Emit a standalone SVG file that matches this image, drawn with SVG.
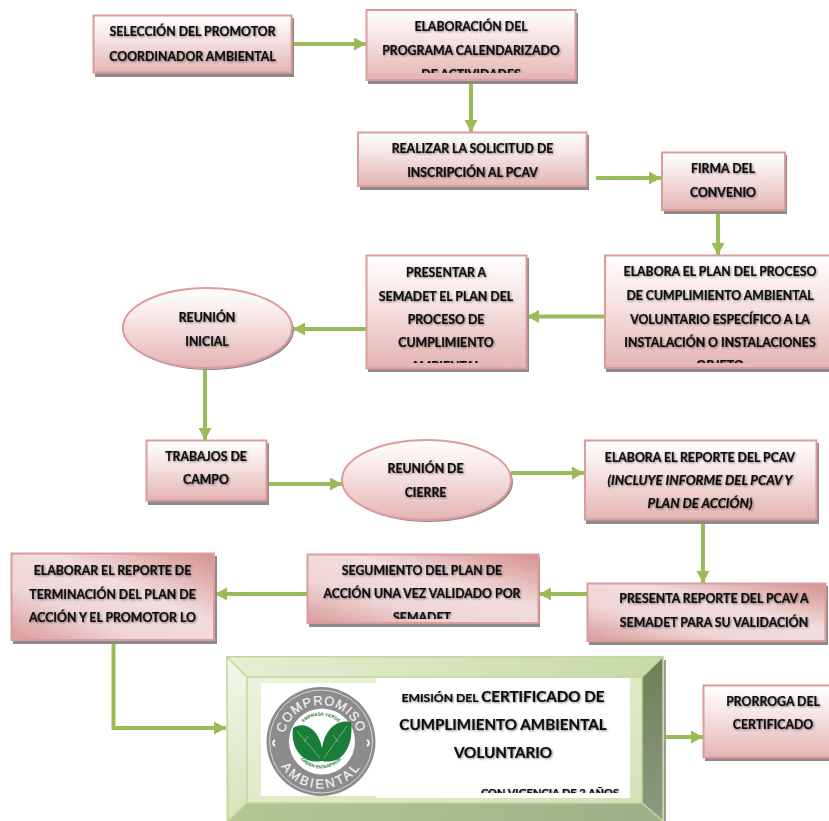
<svg xmlns="http://www.w3.org/2000/svg" width="829" height="821" viewBox="0 0 829 821">
<style>
text{font-family:Lato,"Liberation Sans",sans-serif;font-weight:700;font-size:12.3px;fill:#111;stroke:#111;stroke-width:.22;text-anchor:middle}
.t{filter:url(#ts)}
.n{fill:url(#g);stroke:#dd9c9c;stroke-width:2}
.nd{fill:url(#gd);stroke:#dd9c9c;stroke-width:2}
.s{fill:#8e8a8a}
.c{fill:none;stroke:#9bbb59;stroke-width:4}
.a{fill:#9bbb59}
.big{font-size:15.2px}
.sm{font-size:12.2px}
.it{font-size:13.2px;font-style:italic}
.lg{fill:#f2f2f2;stroke:#f2f2f2;stroke-width:.2;font-family:"Liberation Sans",sans-serif;font-weight:400;font-size:13px}
.lf{fill:#1b7d3a;stroke:none;font-family:"Liberation Sans",sans-serif;font-size:4.5px}
</style>
<defs>
<linearGradient id="g" x1="0" y1="0" x2="0" y2="1"><stop offset="0" stop-color="#fff"/><stop offset=".35" stop-color="#f8e8e8"/><stop offset="1" stop-color="#e4b4b4"/></linearGradient>
<linearGradient id="gd" x1="0" y1="1" x2="1" y2="0"><stop offset="0" stop-color="#d99a9a"/><stop offset=".32" stop-color="#efd6d6"/><stop offset=".6" stop-color="#f2dcdc"/><stop offset="1" stop-color="#d58f8f"/></linearGradient>
<linearGradient id="ft" x1="0" y1="0" x2="1" y2="0"><stop offset="0" stop-color="#e6efd3"/><stop offset="1" stop-color="#c8d8a6"/></linearGradient>
<linearGradient id="fl" x1="0" y1="0" x2="0" y2="1"><stop offset="0" stop-color="#f3f7ea"/><stop offset="1" stop-color="#d6e3ba"/></linearGradient>
<linearGradient id="fb" x1="0" y1="0" x2="1" y2="0"><stop offset="0" stop-color="#b6c795"/><stop offset="1" stop-color="#a0ae88"/></linearGradient>
<linearGradient id="fr" x1="0" y1="0" x2="0" y2="1"><stop offset="0" stop-color="#6f7e58"/><stop offset="1" stop-color="#8f9a80"/></linearGradient>
<linearGradient id="fi" x1="0" y1="0" x2="1" y2="1"><stop offset="0" stop-color="#eef4df"/><stop offset="1" stop-color="#d2e0b4"/></linearGradient>
<filter id="ts" x="-10%" y="-40%" width="120%" height="190%"><feDropShadow dx="1" dy="1" stdDeviation="1" flood-color="#000" flood-opacity=".45"/></filter>
<marker id="m" markerUnits="userSpaceOnUse" markerWidth="13" markerHeight="14" refX="12" refY="6.500" orient="auto"><path d="M0 0L12 6.500L0 13z" class="a"/></marker>
<clipPath id="c2"><rect x="366" y="9" width="210" height="64"/></clipPath>
<clipPath id="c5"><rect x="604" y="255" width="225" height="108"/></clipPath>
<clipPath id="c6"><rect x="366" y="255" width="161" height="108"/></clipPath>
<clipPath id="c12"><rect x="307" y="554" width="232" height="65"/></clipPath>
<clipPath id="c14"><rect x="376" y="678" width="254" height="115"/></clipPath>
<path id="arcTop" d="M283.500 749A38 38 0 1 1 358.500 749"/>
<path id="arcBot" d="M274 741.500A47 47 0 0 0 368 741.500"/>
<path id="arcIn1" d="M295 741.500A26 26 0 0 1 347 741.500"/>
<path id="arcIn2" d="M294 741.500A27 27 0 0 0 348 741.500"/>
</defs>

<g id="connectors">
<path class="c" d="M292 44H366" marker-end="url(#m)"/>
<path class="c" d="M471 80V132" marker-end="url(#m)"/>
<path class="c" d="M596 178H661" marker-end="url(#m)"/>
<path class="c" d="M718 210V255" marker-end="url(#m)"/>
<path class="c" d="M604 316.500H527" marker-end="url(#m)"/>
<path class="c" d="M366 329H293" marker-end="url(#m)"/>
<path class="c" d="M205 368V440" marker-end="url(#m)"/>
<path class="c" d="M267 484H342" marker-end="url(#m)"/>
<path class="c" d="M511 473H584" marker-end="url(#m)"/>
<path class="c" d="M703 519V583" marker-end="url(#m)"/>
<path class="c" d="M587 594H539" marker-end="url(#m)"/>
<path class="c" d="M307 594H215" marker-end="url(#m)"/>
<path class="c" d="M113.500 640V728H226" marker-end="url(#m)"/>
<path class="c" d="M663 737H703" marker-end="url(#m)"/>
</g>

<g id="n1"><rect class="s" x="95" y="18" width="199" height="59"/><rect class="n" x="93.500" y="15.500" width="198" height="57"/>
<g class="t"><text x="192.500" y="36">SELECCIÓN DEL PROMOTOR</text><text x="192.500" y="60.500">COORDINADOR AMBIENTAL</text></g></g>

<g id="n2"><rect class="s" x="368" y="13" width="210" height="71"/><rect class="n" x="366.500" y="10" width="209" height="70"/>
<g class="t" clip-path="url(#c2)"><text x="471" y="30.500">ELABORACIÓN DEL</text><text x="471" y="54.500">PROGRAMA CALENDARIZADO</text><text x="471" y="78.500">DE ACTIVIDADES</text></g></g>

<g id="n3"><rect class="s" x="360" y="135" width="229" height="55"/><rect class="n" x="358" y="132.500" width="228.500" height="53.500"/>
<g class="t"><text x="472.500" y="153">REALIZAR LA SOLICITUD DE</text><text x="472.500" y="177">INSCRIPCIÓN AL PCAV</text></g></g>

<g id="n4"><rect class="s" x="664" y="155" width="123" height="59"/><rect class="n" x="662" y="152.500" width="123" height="57.500"/>
<g class="t"><text x="723" y="173">FIRMA DEL</text><text x="723" y="197">CONVENIO</text></g></g>

<g id="n5"><rect class="s" x="606" y="258" width="224" height="114"/><rect class="n" x="605" y="255.500" width="226" height="112.500"/>
<g class="t" clip-path="url(#c5)"><text x="720" y="276">ELABORA EL PLAN DEL PROCESO</text><text x="720" y="300">DE CUMPLIMIENTO AMBIENTAL</text><text x="720" y="323.500">VOLUNTARIO ESPECÍFICO A LA</text><text x="720" y="347">INSTALACIÓN O INSTALACIONES</text><text x="720" y="370">OBJETO</text></g></g>

<g id="n6"><rect class="s" x="368" y="258" width="161" height="114"/><rect class="n" x="366.500" y="255.500" width="160" height="113"/>
<g class="t" clip-path="url(#c6)"><text x="446" y="277">PRESENTAR A</text><text x="446" y="300.500">SEMADET EL PLAN DEL</text><text x="446" y="323.500">PROCESO DE</text><text x="446" y="347">CUMPLIMIENTO</text><text x="446" y="370.500">AMBIENTAL</text></g></g>

<g id="n7"><ellipse class="s" cx="209.500" cy="330" rx="84.500" ry="40"/><ellipse class="n" cx="207.500" cy="328" rx="84.500" ry="40"/>
<g class="t"><text x="207" y="322">REUNIÓN</text><text x="207" y="346">INICIAL</text></g></g>

<g id="n8"><rect class="s" x="148" y="443" width="121" height="62"/><rect class="n" x="146.500" y="440.500" width="120" height="60"/>
<g class="t"><text x="206" y="461">TRABAJOS DE</text><text x="206" y="484">CAMPO</text></g></g>

<g id="n9"><ellipse class="s" cx="428.500" cy="482" rx="84.500" ry="40"/><ellipse class="n" cx="426.500" cy="480" rx="84.500" ry="40"/>
<g class="t"><text x="425.500" y="473">REUNIÓN DE</text><text x="425.500" y="497">CIERRE</text></g></g>

<g id="n10"><rect class="s" x="586" y="443" width="233" height="81"/><rect class="n" x="585" y="440.500" width="231.500" height="79"/>
<g class="t"><text x="700" y="462">ELABORA EL REPORTE DEL PCAV</text><text class="it" x="700" y="484.500">(INCLUYE INFORME DEL PCAV Y</text><text class="it" x="700" y="508">PLAN DE ACCIÓN)</text></g></g>

<g id="n11"><rect class="s" x="589" y="586" width="239" height="59"/><rect class="nd" x="587.500" y="583.500" width="238" height="57.500"/>
<g class="t"><text x="714" y="603">PRESENTA REPORTE DEL PCAV A</text><text x="714" y="627">SEMADET PARA SU VALIDACIÓN</text></g></g>

<g id="n12"><rect class="s" x="309" y="557" width="231" height="70"/><rect class="nd" x="307.500" y="554.500" width="231" height="68.500"/>
<g class="t" clip-path="url(#c12)"><text x="422" y="575">SEGUMIENTO DEL PLAN DE</text><text x="422" y="598">ACCIÓN UNA VEZ VALIDADO POR</text><text x="422" y="622">SEMADET</text></g></g>

<g id="n13"><rect class="s" x="13" y="556" width="204" height="88"/><rect class="nd" x="11.500" y="553.500" width="202.500" height="86.500"/>
<g class="t"><text x="112.500" y="575">ELABORAR EL REPORTE DE</text><text x="112.500" y="598.500">TERMINACIÓN DEL PLAN DE</text><text x="112.500" y="622">ACCIÓN Y EL PROMOTOR LO</text></g></g>

<g id="n14">
<rect x="664" y="660" width="2" height="161" fill="#9a9a9a"/>
<rect x="226" y="656" width="438" height="165" fill="url(#fi)"/>
<path d="M226 656H663L642 677H247z" fill="url(#ft)"/>
<path d="M226 656L247 677V803L228 821z" fill="url(#fl)"/>
<path d="M663 656V821L642 803V677z" fill="url(#fr)"/>
<path d="M228 821L247 803H642L663 821z" fill="url(#fb)"/>
<path d="M226.800 656.800H663V821M226.800 656.800L228 821M226.800 656.800L247 677H642L663 656.800M247 677V803H642V677M247 803L228 821M642 803L663 821" fill="none" stroke="#c3d69b" stroke-width="1.500"/>
<rect x="261" y="683" width="116" height="113" fill="#fff"/>
<rect x="376" y="678" width="254" height="120" fill="#fff"/>
<circle cx="321" cy="741.500" r="54.500" fill="#8c8c8c"/>
<circle cx="321" cy="741.500" r="51.500" fill="none" stroke="#e8e8e8" stroke-width=".8"/>
<circle cx="322" cy="741.500" r="33" fill="#fff"/>
<path d="M322 761C303 765 290 748 293 728C303 721 318 727 322 748C325 729 337 719 351 722C354 747 342 765 322 761z" fill="#1b7d3a"/>
<path d="M297 731L320 758M347 726L324 758M304 742L308 736M338 742L333 735" stroke="#8fc39a" stroke-width=".7" fill="none"/>
<path d="M275 740q-4 3 0 6M367 740q4 3 0 6" fill="none" stroke="#f2f2f2" stroke-width="2"/>
<text class="lg" letter-spacing=".8"><textPath href="#arcTop" startOffset="50%">COMPROMISO</textPath></text>
<text class="lg" letter-spacing="2.500"><textPath href="#arcBot" startOffset="50%">AMBIENTAL</textPath></text>
<text class="lf"><textPath href="#arcIn1" startOffset="50%">EMPRESA VERDE</textPath></text>
<text class="lf"><textPath href="#arcIn2" startOffset="50%">GREEN ENTERPRISE</textPath></text>
<g class="t" clip-path="url(#c14)">
<text x="503" y="702"><tspan class="sm">EMISIÓN DEL </tspan><tspan class="big">CERTIFICADO DE</tspan></text>
<text class="big" x="503" y="729.500">CUMPLIMIENTO AMBIENTAL</text>
<text class="big" x="503" y="758">VOLUNTARIO</text>
<text x="550" y="797" style="font-size:11px">CON VIGENCIA DE 2 AÑOS</text>
</g>
</g>

<g id="n15"><rect class="s" x="705" y="688" width="124" height="73"/><rect class="n" x="703.500" y="685.500" width="127" height="72"/>
<g class="t"><text x="773" y="706">PRORROGA DEL</text><text x="773" y="729">CERTIFICADO</text></g></g>
</svg>
